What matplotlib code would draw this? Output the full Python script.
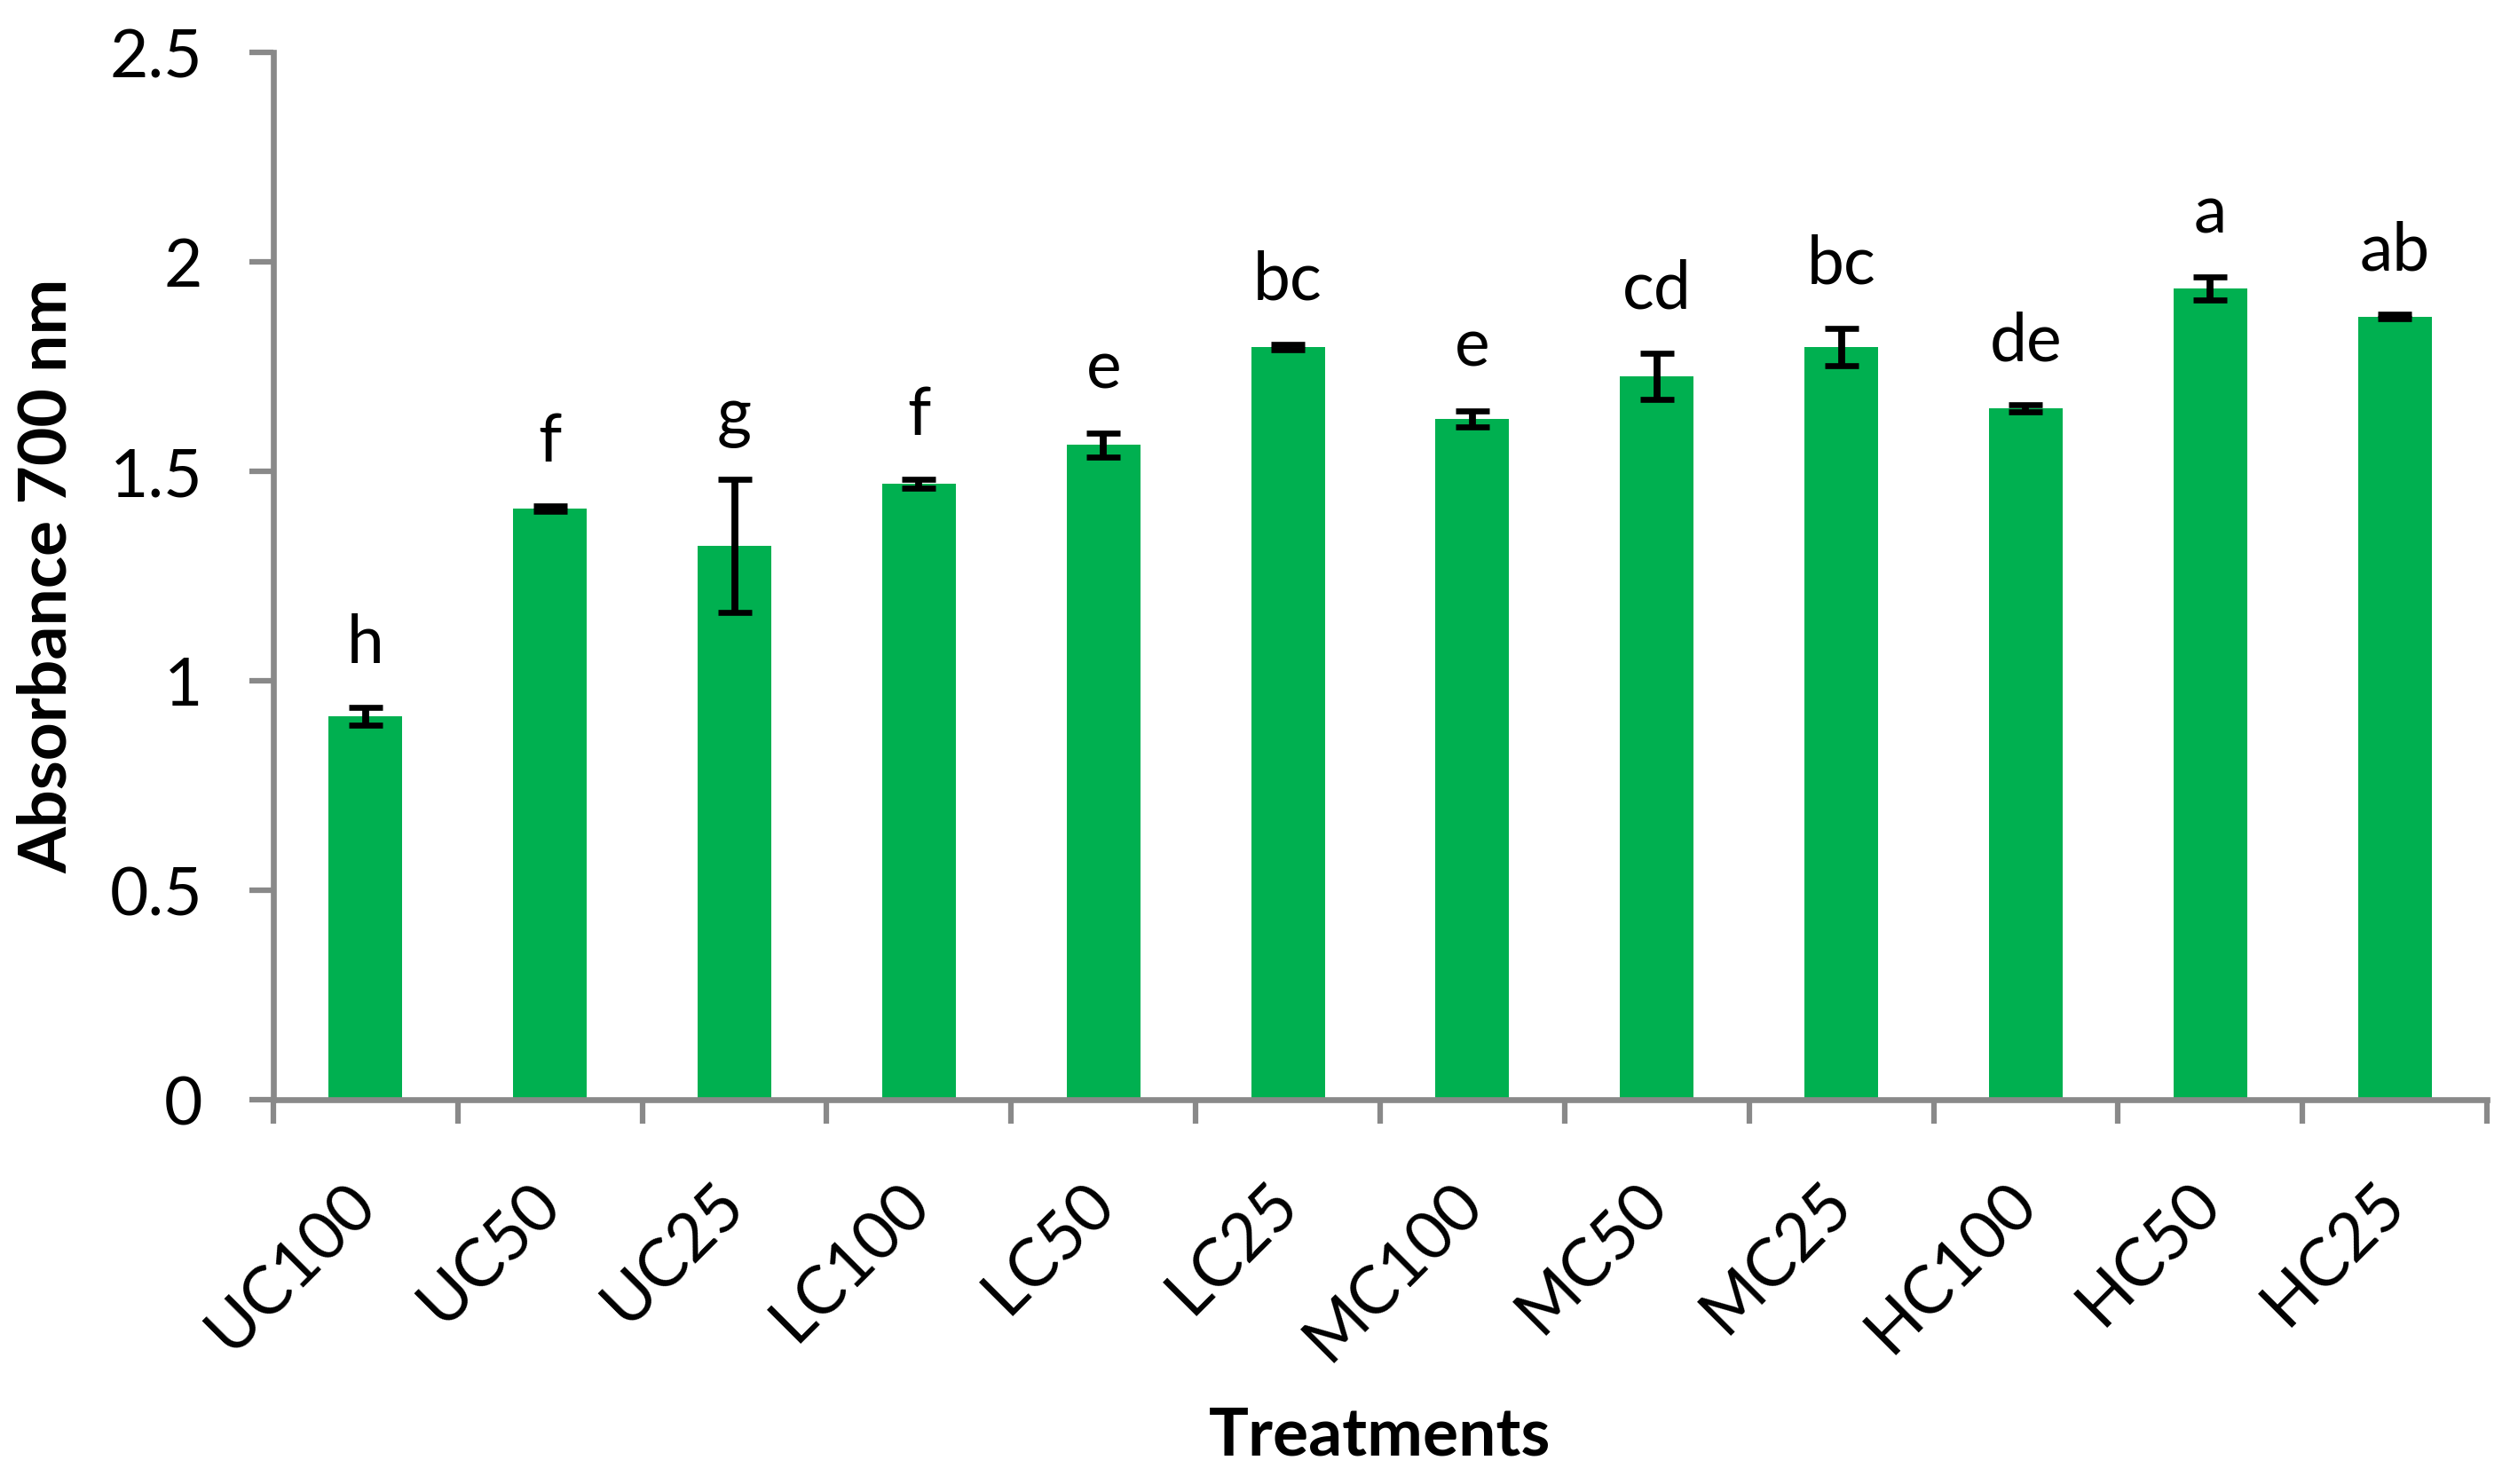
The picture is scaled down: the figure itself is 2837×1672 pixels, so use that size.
import matplotlib
matplotlib.use("Agg")
import matplotlib.pyplot as plt
import numpy as np

categories = ["UC100", "UC50", "UC25", "LC100", "LC50", "LC25",
              "MC100", "MC50", "MC25", "HC100", "HC50", "HC25"]
values = [0.915, 1.411, 1.322, 1.470, 1.563, 1.797,
          1.625, 1.727, 1.797, 1.650, 1.936, 1.869]
errors = [0.021, 0.007, 0.158, 0.010, 0.029, 0.007,
          0.020, 0.055, 0.045, 0.008, 0.027, 0.005]
letters = ["h", "f", "g", "f", "e", "bc", "e", "cd", "bc", "de", "a", "ab"]
yticks = [0, 0.5, 1, 1.5, 2, 2.5]
ytick_labels = ["0", "0.5", "1", "1.5", "2", "2.5"]

plt.rcParams['font.family'] = ['Lato', 'DejaVu Sans']

W, H = 2837, 1672
fig = plt.figure(figsize=(W / 100, H / 100), dpi=100)
ax = fig.add_axes([308 / W, 1 - 1239 / H, (2802 - 308) / W, (1239 - 59) / H])

x = np.arange(len(categories))
ax.bar(x, values, width=0.40, color="#00B050", zorder=2)
ax.errorbar(x, values, yerr=errors, fmt="none", ecolor="black",
            elinewidth=5.6, capsize=13.7, capthick=4.8, zorder=3)

for xi, v, e, lab in zip(x, values, errors, letters):
    ax.annotate(lab, xy=(xi, v + e), xytext=(0, 36), textcoords="offset points",
                ha="center", va="baseline", fontsize=54, color="black")

ax.set_xlim(-0.5, len(categories) - 0.5)
ax.set_ylim(0, 2.5)

ax.set_yticks(yticks)
ax.set_yticklabels(ytick_labels)
ax.tick_params(axis="y", which="major", length=19.5, width=4.5, color="#898989",
               direction="out", pad=38, labelsize=54, labelcolor="black")

ax.set_xticks(np.arange(len(categories) + 1) - 0.5)
ax.set_xticklabels([])
ax.tick_params(axis="x", which="major", length=19.5, width=4.5, color="#898989",
               direction="out")
ax.set_xticks(x, minor=True)
ax.set_xticklabels(categories, minor=True, rotation=45, ha="right",
                   rotation_mode="anchor", va="center")
ax.tick_params(axis="x", which="minor", length=0, pad=76, labelsize=54,
               labelcolor="black")

for s in ["top", "right"]:
    ax.spines[s].set_visible(False)
for s in ["left", "bottom"]:
    ax.spines[s].set_color("#898989")
    ax.spines[s].set_linewidth(4.8)

fig.text(53 / W, 1 - 649 / H, "Absorbance 700 nm", rotation=90,
         ha="center", va="center", fontsize=54, fontweight="bold")
fig.text(1555 / W, 1 - 1640 / H, "Treatments", ha="center", va="baseline",
         fontsize=54, fontweight="bold")

fig.savefig("out.png", dpi=100)
